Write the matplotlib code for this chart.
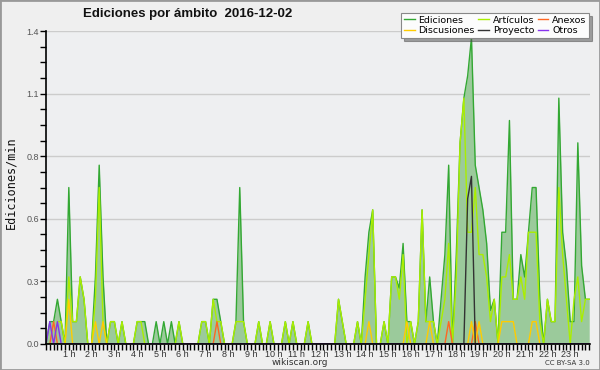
import numpy as np
import matplotlib
matplotlib.use("Agg")
import matplotlib.pyplot as plt
from matplotlib.patches import Rectangle
from matplotlib.ticker import FixedLocator, MultipleLocator

# edits per minute, one value per 10-minute slot (6 per hour, 144 total)
ediciones = [
    0, 0.1, 0.1, 0.2, 0.1, 0,        0.7, 0.1, 0.1, 0.3, 0.2, 0,
    0, 0.3, 0.8, 0.3, 0, 0.1,        0.1, 0, 0.1, 0, 0, 0,
    0.1, 0.1, 0.1, 0, 0, 0.1,        0, 0.1, 0, 0.1, 0, 0.1,
    0, 0, 0, 0, 0, 0.1,              0.1, 0, 0.2, 0.2, 0.1, 0,
    0, 0, 0.1, 0.7, 0.1, 0,          0, 0, 0.1, 0, 0, 0.1,
    0, 0, 0, 0.1, 0, 0.1,            0, 0, 0, 0.1, 0, 0,
    0, 0, 0, 0, 0, 0.2,              0.1, 0, 0, 0, 0.1, 0,
    0.3, 0.5, 0.6, 0, 0, 0.1,        0, 0.3, 0.3, 0.25, 0.45, 0.1,
    0.1, 0, 0.1, 0.6, 0.1, 0.3,      0.1, 0, 0.2, 0.4, 0.8, 0,
    0.4, 0.9, 1.1, 1.2, 1.37, 0.8,   0.7, 0.6, 0.45, 0.15, 0.2, 0,
    0.5, 0.5, 1.0, 0.2, 0.2, 0.4,    0.3, 0.5, 0.7, 0.7, 0.2, 0,
    0.2, 0.1, 0.1, 1.1, 0.5, 0.35,   0.1, 0.1, 0.9, 0.35, 0.2, 0.2,
]
articulos = [
    0, 0, 0, 0.1, 0.1, 0,            0.3, 0.1, 0.1, 0.3, 0.2, 0,
    0, 0.2, 0.7, 0.1, 0, 0.1,        0.1, 0, 0.1, 0, 0, 0,
    0.1, 0.1, 0, 0, 0, 0,            0, 0, 0, 0, 0, 0.1,
    0, 0, 0, 0, 0, 0.1,              0.1, 0, 0.2, 0.1, 0.1, 0,
    0, 0, 0.1, 0.1, 0.1, 0,          0, 0, 0.1, 0, 0, 0.1,
    0, 0, 0, 0.1, 0, 0.1,            0, 0, 0, 0.1, 0, 0,
    0, 0, 0, 0, 0, 0.2,              0.1, 0, 0, 0, 0.1, 0,
    0.2, 0.4, 0.6, 0, 0, 0.1,        0, 0.3, 0.3, 0.2, 0.4, 0,
    0.1, 0, 0.1, 0.6, 0.1, 0.1,      0.1, 0, 0.1, 0.2, 0.45, 0,
    0.3, 0.9, 1.1, 0.5, 0.5, 0.7,    0.4, 0.4, 0.3, 0.1, 0.2, 0,
    0.3, 0.3, 0.4, 0.2, 0.2, 0.3,    0.2, 0.5, 0.5, 0.5, 0.1, 0,
    0.2, 0.1, 0.1, 0.7, 0.4, 0.2,    0, 0.2, 0.3, 0.1, 0.2, 0.2,
]
discusiones = [
    0, 0, 0, 0, 0, 0,                0.2, 0, 0, 0, 0, 0,
    0, 0.1, 0, 0.1, 0, 0,            0, 0, 0, 0, 0, 0,
    0, 0, 0, 0, 0, 0,                0, 0, 0, 0, 0, 0,
    0, 0, 0, 0, 0, 0,                0, 0, 0, 0, 0, 0,
    0, 0, 0, 0, 0, 0,                0, 0, 0, 0, 0, 0,
    0, 0, 0, 0, 0, 0,                0, 0, 0, 0, 0, 0,
    0, 0, 0, 0, 0, 0,                0, 0, 0, 0, 0, 0,
    0, 0.1, 0, 0, 0, 0,              0, 0, 0, 0, 0, 0.1,
    0, 0, 0, 0, 0, 0.1,              0, 0, 0, 0, 0, 0,
    0, 0, 0, 0, 0.1, 0,              0.1, 0, 0, 0, 0, 0,
    0.1, 0.1, 0.1, 0.1, 0, 0,        0, 0, 0.1, 0.1, 0, 0,
    0, 0, 0, 0, 0, 0,                0, 0, 0, 0, 0, 0,
]
anexos = [0.0] * 144
anexos[2] = anexos[45] = anexos[106] = anexos[113] = 0.1
otros = [0.0] * 144
otros[1] = otros[3] = 0.1
proyecto = [0.0] * 144
proyecto[111] = 0.65
proyecto[112] = 0.75

hour_labels = [f"{h} h" for h in range(1, 24)]
title = "Ediciones por ámbito  2016-12-02"

slots = np.arange(len(ediciones))
ymax = 1.4

fig = plt.figure(figsize=(6, 3.7), dpi=100, facecolor="#efefef")
ax = fig.add_axes([0.0767, 0.0703, 0.9066, 0.8457])
ax.set_facecolor("#eeeff1")

# filled total, then the per-namespace lines on top
ax.fill_between(slots, ediciones, color="#9bca9b", lw=0)
ax.plot(slots, ediciones, color="#33a833", lw=1.0, label="Ediciones")
ax.plot(slots, articulos, color="#aaee00", lw=1.0, label="Artículos")
ax.plot(slots, anexos, color="#ff6622", lw=1.0, label="Anexos")
ax.plot(slots, discusiones, color="#ffcc00", lw=1.0, label="Discusiones")
ax.plot(slots, proyecto, color="#333333", lw=1.0, label="Proyecto")
ax.plot(slots, otros, color="#8833ee", lw=1.0, label="Otros")

ax.set_xlim(0, len(slots) - 0.8)
ax.set_ylim(0, ymax)

# x: a tick for every 10 minutes, labels on the hours
ax.xaxis.set_major_locator(FixedLocator(np.arange(6, len(slots), 6)))
ax.set_xticklabels(hour_labels, family="Liberation Sans")
ax.xaxis.set_minor_locator(MultipleLocator(1))
ax.tick_params(axis="x", which="both", length=4, width=1, color="black",
               direction="out", pad=0.5, labelsize=6.5, labelcolor="#333333")

yt = np.linspace(0, ymax, 6)
ax.set_yticks(yt)
ax.set_yticklabels([f"{v:.1f}" for v in yt], family="Liberation Sans")
ax.yaxis.set_minor_locator(MultipleLocator(ymax / 20))
ax.tick_params(axis="y", which="both", length=4, width=1, color="black",
               direction="out", pad=1, labelsize=6.5, labelcolor="#555555")

ax.grid(axis="y", which="major", color="#cccccc", lw=1)
ax.set_axisbelow(True)
for s in ["top", "right"]:
    ax.spines[s].set_visible(False)
ax.spines["left"].set_linewidth(1.2)
ax.spines["bottom"].set_linewidth(1.2)

fig.text(0.3125, 0.962, title, ha="center", va="center", family="Liberation Sans",
         fontsize=9.5, fontweight="bold", color="#111111")
fig.text(0.018, 0.507, "Ediciones/min", rotation=90, ha="center", va="center",
         fontsize=8.5, family="DejaVu Sans Mono", color="#111111")
fig.text(0.5, 0.02, "wikiscan.org", ha="center", va="center",
         fontsize=6.5, color="#333333")
fig.text(0.983, 0.02, "CC BY-SA 3.0", ha="right", va="center",
         fontsize=5, color="#333333")

handles, labels = ax.get_legend_handles_labels()
order = [0, 3, 1, 4, 2, 5]
leg = fig.legend([handles[i] for i in order], [labels[i] for i in order],
                 ncol=3, loc="upper right", bbox_to_anchor=(0.99, 0.978),
                 fontsize=6.8, handlelength=1.1, handletextpad=0.4,
                 columnspacing=0.4, labelspacing=0.15, borderpad=0.3,
                 fancybox=False, shadow=True, framealpha=1,
                 edgecolor="#888888", facecolor="#fcfcfc")
leg.get_frame().set_linewidth(0.8)

fig.patches.append(Rectangle((0, 0), 1, 1, transform=fig.transFigure,
                             fill=False, edgecolor="#999999", lw=2))

fig.savefig("out.png", dpi=100, facecolor=fig.get_facecolor())
